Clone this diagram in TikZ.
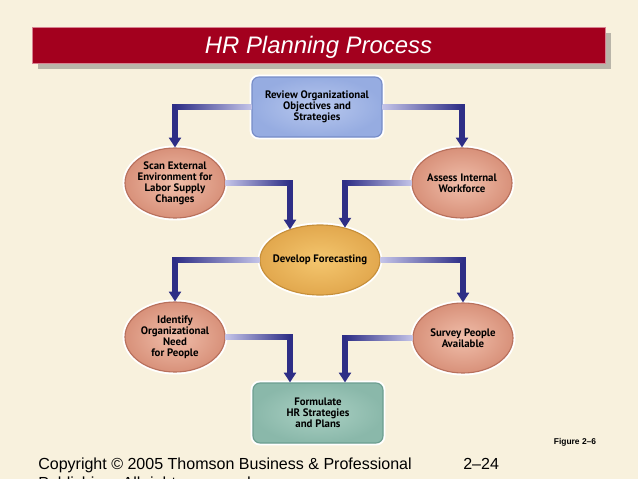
\documentclass[tikz,border=0pt]{standalone}
\usepackage{fontspec}
\setmainfont{Liberation Sans}
\newfontfamily\boxfont{PT Sans}
\usetikzlibrary{arrows.meta,calc,shadows,shapes.geometric}

\definecolor{bgcream}{RGB}{248,241,221}
\definecolor{bannerred}{RGB}{163,0,30}
\definecolor{bannerrim}{RGB}{214,130,145}
\definecolor{shadowgrey}{RGB}{185,181,169}
\definecolor{blueinner}{RGB}{184,200,238}
\definecolor{blueouter}{RGB}{150,172,225}
\definecolor{blueedge}{RGB}{118,140,200}
\definecolor{salmoninner}{RGB}{240,190,170}
\definecolor{salmonouter}{RGB}{216,145,122}
\definecolor{salmonedge}{RGB}{184,112,92}
\definecolor{goldinner}{RGB}{244,198,110}
\definecolor{goldouter}{RGB}{226,168,78}
\definecolor{goldedge}{RGB}{198,143,58}
\definecolor{tealinner}{RGB}{170,208,195}
\definecolor{tealouter}{RGB}{138,184,170}
\definecolor{tealedge}{RGB}{108,158,144}
\definecolor{flowdark}{RGB}{46,46,134}
\definecolor{flowlight}{RGB}{196,196,232}

\tikzset{
	banner/.style={rectangle, fill=bannerred, draw=bannerrim, line width=0.5pt,
		minimum width=14.325cm, minimum height=0.9cm, text=white, text depth=0pt,
		font=\fontsize{17}{20}\selectfont\itshape,
		drop shadow={shadow xshift=0.15cm, shadow yshift=-0.15cm, fill=shadowgrey, opacity=1}},
	planbox/.style={rectangle, rounded corners=5pt, minimum width=3.25cm, minimum height=1.5cm,
		align=center, font=\boxfont\bfseries\fontsize{7.7}{7.8}\selectfont,
		preaction={draw=white, line width=3.5pt}, line width=0.8pt},
	oval/.style={ellipse, minimum width=2.5cm, minimum height=1.75cm, inner xsep=-4pt, inner ysep=0pt,
		align=center, font=\boxfont\bfseries\fontsize{7.7}{7.8}\selectfont,
		preaction={draw=white, line width=3.5pt}, line width=0.8pt,
		inner color=salmoninner, outer color=salmonouter, draw=salmonedge},
	flow/.style={draw=flowdark, line width=3.6pt, -{Triangle[length=7pt, width=8.5pt]}}
}

\begin{document}
\begin{tikzpicture}
	\useasboundingbox (0,0) rectangle (15.95,-11.975);
	\fill [bgcream] (0,0) rectangle (15.95,-11.975);

	\node [banner] (title) at (7.9625,-1.125) {HR Planning Process};

	% boxes
	\node [planbox, inner color=blueinner, outer color=blueouter, draw=blueedge] (review) at (7.925,-2.675)
		{Review Organizational\\Objectives and\\Strategies};
	\node [oval] (scan) at (4.375,-4.575) {Scan External\\Environment for\\Labor Supply\\Changes};
	\node [oval] (assess) at (11.55,-4.575) {Assess Internal\\Workforce};
	\node [oval, minimum width=3cm, inner color=goldinner, outer color=goldouter, draw=goldedge] (forecast)
		at (8,-6.5) {Develop Forecasting};
	\node [oval] (identify) at (4.375,-8.425) {Identify\\Organizational\\Need\\for People};
	\node [oval] (survey) at (11.575,-8.45) {Survey People\\Available};
	\node [planbox, inner color=tealinner, outer color=tealouter, draw=tealedge] (formulate) at (7.95,-10.325)
		{Formulate\\HR Strategies\\and Plans};

	% arrow ends
	\coordinate (fcl) at ($(forecast.north)+(-0.75,-0.125)$);
	\coordinate (fcr) at ($(forecast.north)+(0.625,-0.08)$);
	\coordinate (fml) at ($(formulate.north)+(-0.7,0)$);
	\coordinate (fmr) at ($(formulate.north)+(0.675,0)$);

	\foreach \a/\b/\l/\r in {review.west/scan.north/flowdark/flowlight,
			review.east/assess.north/flowlight/flowdark,
			scan.east/fcl/flowlight/flowdark,
			assess.west/fcr/flowdark/flowlight,
			forecast.west/identify.north/flowdark/flowlight,
			forecast.east/survey.north/flowlight/flowdark,
			identify.east/fml/flowlight/flowdark,
			survey.west/fmr/flowdark/flowlight}{
		\draw [flow] (\a) -| (\b);
		\shade [left color=\l, right color=\r] ($(\a -| \b)+(0,-0.0635)$) rectangle ($(\a)+(0,0.0635)$);
	}

	\node [font=\bfseries\fontsize{6}{7}\selectfont] (fig) at (14.375,-11.05) {Figure 2--6};
	\node [anchor=base west, font=\fontsize{11.4}{13.6}\selectfont, inner sep=0pt] (copy) at (0.95,-11.725)
		{Copyright \textcopyright{} 2005 Thomson Business \& Professional};
	\node [anchor=base west, font=\fontsize{11.4}{13.6}\selectfont, inner sep=0pt] (copytwo) at (0.95,-12.21)
		{Publishing. All rights reserved.};
	\node [anchor=base west, font=\fontsize{11.4}{13.6}\selectfont, inner sep=0pt] (slide) at (11.575,-11.725) {2--24};
\end{tikzpicture}
\end{document}
